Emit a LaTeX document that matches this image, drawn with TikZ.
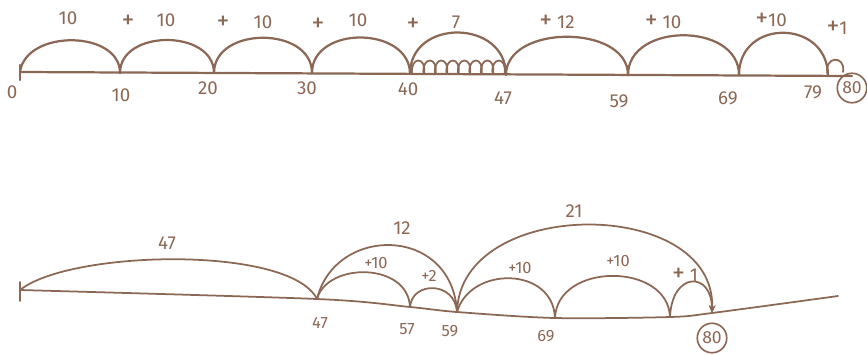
\documentclass[tikz,border=0pt]{standalone}
\usepackage{fontspec}
\setmainfont{Fira Sans}
\usetikzlibrary{calc,arrows.meta}
\definecolor{ink}{RGB}{139,104,86}
\newcommand{\bigplus}{{\fontsize{22}{22}\selectfont +}}
\begin{document}
\begin{tikzpicture}[x=0.03cm,y=-0.03cm,
  ink line/.style={draw=ink,line width=1.9pt,line cap=round,line join=round},
  thin ink/.style={ink line,line width=1.5pt},
  lbl/.style={text=ink,font=\fontsize{16}{18}\selectfont,inner sep=0pt},
  plbl/.style={text=ink,font=\fontsize{22}{22}\selectfont,inner sep=0pt},
  slbl/.style={text=ink,font=\fontsize{14}{16}\selectfont,inner sep=0pt},
  circ/.style={draw=ink,line width=1.4pt,circle,inner sep=2pt,text=ink,font=\fontsize{15}{17}\selectfont}]
\useasboundingbox (0,0) rectangle (867,354);
% ---------- top number line ----------
\coordinate (t0) at (20,72);
\coordinate (t10) at (120,73);
\coordinate (t20) at (214,73);
\coordinate (t30) at (312,73);
\coordinate (t40) at (410,74);
\coordinate (t47) at (506,75);
\coordinate (t59) at (628,75);
\coordinate (t69) at (739,75);
\coordinate (t79) at (828,76);
\coordinate (tend) at (852,76);
\coordinate (t0a) at (20,65);
\coordinate (t0b) at (20,80);
\draw[ink line] (t0) -- (tend);
\draw[ink line] (t0a) -- (t0b);
\draw[ink line] (t0) .. controls ($(t0)+(6,-43)$) and ($(t10)+(0,-43)$) .. (t10);
\draw[ink line] (t10) .. controls ($(t10)+(0,-44)$) and ($(t20)+(0,-44)$) .. (t20);
\draw[ink line] (t20) .. controls ($(t20)+(0,-47)$) and ($(t30)+(0,-47)$) .. (t30);
\draw[ink line] (t30) .. controls ($(t30)+(0,-48)$) and ($(t40)+(0,-48)$) .. (t40);
\draw[ink line] (t40) .. controls ($(t40)+(0,-56)$) and ($(t47)+(0,-56)$) .. (t47);
\draw[ink line] (t47) .. controls ($(t47)+(0,-51)$) and ($(t59)+(0,-51)$) .. (t59);
\draw[ink line] (t59) .. controls ($(t59)+(0,-53)$) and ($(t69)+(0,-53)$) .. (t69);
\draw[ink line] (t69) .. controls ($(t69)+(0,-57)$) and ($(t79)+(0,-57)$) .. (t79);
% coil of small jumps between 40 and 47
\foreach \i in {0,...,7}{
  \draw[thin ink] ({412+\i*11.5},74) .. controls ({410+\i*11.5},56) and ({427+\i*11.5},56) .. ({424+\i*11.5},74);
}
% small +1 loop near 80
\draw[thin ink] (t79) .. controls (822,56) and (846,54) .. (843,72);
% top labels
\node[lbl] at (68,18) {10};
\node[plbl] at (128,22) {+};
\node[lbl] at (166,20) {10};
\node[plbl] at (223,23) {+};
\node[lbl] at (263,22) {10};
\node[plbl] at (318,25) {+};
\node[lbl] at (358,20) {10};
\node[plbl] at (413,25) {+};
\node[lbl] at (456,22) {7};
\node[lbl] at (557,22) {\bigplus\ 12};
\node[lbl] at (663,22) {\bigplus\ 10};
\node[lbl] at (771,20) {\bigplus10};
\node[lbl] at (837,28) {\bigplus1};
\node[lbl] at (12,92) {0};
\node[lbl] at (121,95) {10};
\node[lbl] at (208,88) {20};
\node[lbl] at (307,88) {30};
\node[lbl] at (408,89) {40};
\node[lbl] at (503,98) {47};
\node[lbl] at (619,101) {59};
\node[lbl] at (728,98) {69};
\node[lbl] at (813,92) {79};
\node[circ] at (852,88) {80};
% ---------- bottom number line ----------
\coordinate (b0) at (20,290);
\coordinate (b47) at (317,299);
\coordinate (b57) at (410,307);
\coordinate (b59) at (457,312);
\coordinate (b69) at (555,318);
\coordinate (b79) at (670,317);
\coordinate (b80) at (712,313);
\coordinate (bend) at (838,296);
\coordinate (b0a) at (20,282);
\coordinate (b0b) at (20,301);
\draw[thin ink] plot[smooth,tension=0.5] coordinates {(b0) (b47) (b57) (b59) (b69) (b79) (b80) (bend)};
\draw[thin ink] (b0a) -- (b0b);
\draw[thin ink] (b0) .. controls (70,250) and (290,245) .. (b47);
\draw[thin ink] (b47) .. controls (335,225) and (452,225) .. (b59);
\draw[thin ink] (b47) .. controls (327,262) and (408,262) .. (b57);
\draw[thin ink] (b57) .. controls (412,281) and (455,281) .. (b59);
\draw[thin ink,-{Stealth[length=7pt,width=6pt]}] (b59) .. controls (460,196) and (716,196) .. (b80);
\draw[thin ink] (b59) .. controls (470,266) and (553,266) .. (b69);
\draw[thin ink] (b69) .. controls (557,262) and (668,262) .. (b79);
\draw[thin ink,-{Stealth[length=6pt,width=5pt]}] (b79) .. controls (672,271) and (712,271) .. (b80);
% bottom labels
\node[lbl] at (167,243) {47};
\node[lbl] at (402,228) {12};
\node[slbl] at (376,263) {+10};
\node[slbl] at (429,276) {+2};
\node[lbl] at (574,211) {21};
\node[slbl] at (520,268) {+10};
\node[slbl] at (618,261) {+10};
\node[lbl] at (685,275) {\bigplus\ 1};
\node[slbl] at (320,323) {47};
\node[slbl] at (407,329) {57};
\node[slbl] at (450,331) {59};
\node[slbl] at (546,336) {69};
\node[circ] at (712,338) {80};
\end{tikzpicture}
\end{document}
